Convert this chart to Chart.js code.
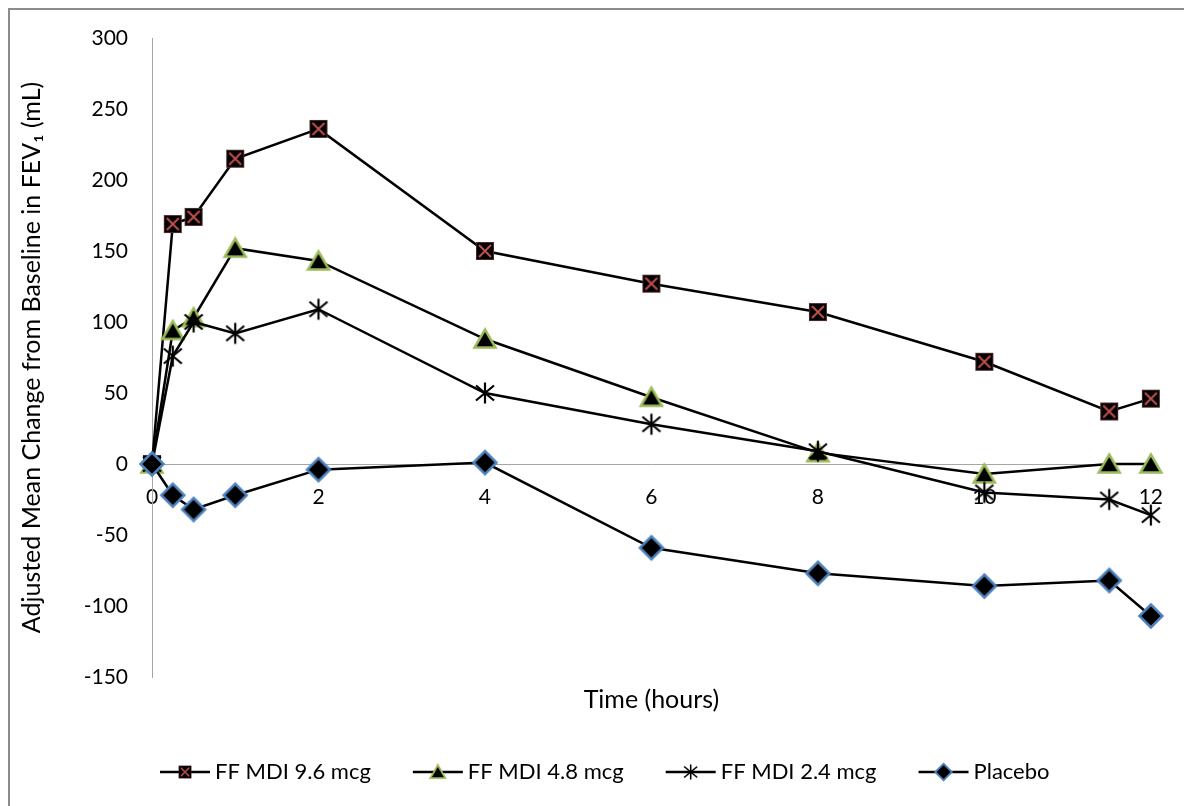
<!DOCTYPE html>
<html>
<head>
<meta charset="utf-8">
<script src="https://cdn.jsdelivr.net/npm/chart.js@4.4.1/dist/chart.umd.min.js"></script>
<style>
  html, body { margin: 0; padding: 0; background: #fff; overflow: hidden; }
  #frame { position: absolute; left: 8px; top: 8px; width: 1200px; height: 820px; border: 2px solid #8c8c8c; }
  #c { position: absolute; left: 0; top: 0; }
</style>
</head>
<body>
<div id="frame"></div>
<canvas id="c" width="1184" height="806"></canvas>
<script>
"use strict"

// time points (hours) and adjusted mean change from baseline in FEV1 (mL)
const hours = [0, 0.25, 0.5, 1, 2, 4, 6, 8, 10, 11.5, 12];
const ff96 = [0, 169, 174, 215, 236, 150, 127, 107, 72, 37, 46];
const ff48 = [0, 94, 103, 152, 143, 88, 47, 8, -7, 0, 0];
const ff24 = [0, 76, 100, 92, 109, 50, 28, 9, -20, -25, -36];
const placebo = [0, -22, -32, -22, -4, 1, -59, -77, -86, -82, -107];
const seriesNames = ["FF MDI 9.6 mcg", "FF MDI 4.8 mcg", "FF MDI 2.4 mcg", "Placebo"];
const yTicks = [-150, -100, -50, 0, 50, 100, 150, 200, 250, 300];
const xTicks = [0, 2, 4, 6, 8, 10, 12];

const FONT = "Lato";

function makeCanvas(w, h) {
    const cv = document.createElement("canvas");
    cv.width = w;
    cv.height = h;
    return cv;
}

// marker images
function squareMarker() {
    const cv = makeCanvas(22, 22);
    const g = cv.getContext("2d");
    g.fillStyle = "#000";
    g.fillRect(2, 2, 18, 18);
    g.strokeStyle = "#4a2a2a";
    g.lineWidth = 1;
    g.strokeRect(2.5, 2.5, 17, 17);
    g.strokeStyle = "#C0504D";
    g.lineWidth = 2;
    g.beginPath();
    g.moveTo(5, 5); g.lineTo(17, 17);
    g.moveTo(17, 5); g.lineTo(5, 17);
    g.stroke();
    return cv;
}

function triangleMarker() {
    const cv = makeCanvas(26, 24);
    const g = cv.getContext("2d");
    g.beginPath();
    g.moveTo(13, 2.5);
    g.lineTo(23.5, 20.5);
    g.lineTo(2.5, 20.5);
    g.closePath();
    g.fillStyle = "#000";
    g.fill();
    g.strokeStyle = "#9BBB59";
    g.lineWidth = 2.5;
    g.lineJoin = "miter";
    g.stroke();
    return cv;
}

function starMarker() {
    const cv = makeCanvas(24, 24);
    const g = cv.getContext("2d");
    g.strokeStyle = "#000";
    g.lineWidth = 2.2;
    g.beginPath();
    g.moveTo(12, 1.5); g.lineTo(12, 22.5);
    g.moveTo(3, 4.5); g.lineTo(21, 19.5);
    g.moveTo(21, 4.5); g.lineTo(3, 19.5);
    g.stroke();
    return cv;
}

function diamondMarker() {
    const cv = makeCanvas(28, 28);
    const g = cv.getContext("2d");
    g.beginPath();
    g.moveTo(14, 2.5);
    g.lineTo(25.5, 14);
    g.lineTo(14, 25.5);
    g.lineTo(2.5, 14);
    g.closePath();
    g.fillStyle = "#000";
    g.fill();
    g.strokeStyle = "#4F81BD";
    g.lineWidth = 2.5;
    g.stroke();
    return cv;
}

const markers = [squareMarker(), triangleMarker(), starMarker(), diamondMarker()];
const seriesValues = [ff96, ff48, ff24, placebo];

const datasets = seriesValues.map((vals, i) => ({
    label: seriesNames[i],
    data: hours.map((h, j) => ({ x: h, y: vals[j] })),
    borderColor: "#000",
    borderWidth: 2.5,
    pointStyle: markers[i],
    pointRadius: 10,
    pointHoverRadius: 10,
    tension: 0,
    clip: false,
    order: 3 - i
}));

// legend drawn as Excel does: short line with a smaller marker through it
const lineLegend = {
    id: "lineLegend",
    afterDraw(chart) {
        const ctx = chart.ctx;
        ctx.save();
        ctx.font = "22px " + FONT;
        ctx.textBaseline = "middle";
        ctx.fillStyle = "#000";
        let x = 160;
        const y = 772;
        chart.data.datasets.forEach((ds, i) => {
            ctx.strokeStyle = "#000";
            ctx.lineWidth = 2.5;
            ctx.beginPath();
            ctx.moveTo(x, y);
            ctx.lineTo(x + 50, y);
            ctx.stroke();
            const m = markers[i];
            const w = m.width * 0.72, h = m.height * 0.72;
            ctx.drawImage(m, x + 25 - w / 2, y - h / 2, w, h);
            ctx.fillText(ds.label, x + 55, y);
            x += 55 + ctx.measureText(ds.label).width + 42;
        });
        ctx.restore();
    }
};

new Chart(document.getElementById("c"), {
    type: "line",
    data: { datasets: datasets },
    plugins: [lineLegend],
    options: {
        responsive: false,
        animation: false,
        events: [],
        layout: { padding: { left: 0, right: 31, top: 38, bottom: 0 } },
        plugins: {
            legend: { display: false },
            tooltip: { enabled: false }
        },
        scales: {
            x: {
                type: "linear",
                position: { y: 0 },
                min: 0,
                max: 12,
                afterBuildTicks: (s) => { s.ticks = xTicks.map(v => ({ value: v })); },
                grid: { display: false, drawTicks: false },
                border: { display: true, color: "#a6a6a6", width: 1 },
                ticks: { color: "#000", font: { family: FONT, size: 21 }, padding: 21, maxRotation: 0 }
            },
            x2: {
                type: "linear",
                position: "bottom",
                min: 0,
                max: 1,
                afterFit: (s) => { s.height = 129; },
                grid: { display: false, drawTicks: false },
                border: { display: false },
                ticks: { display: false },
                title: {
                    display: true,
                    text: "Time (hours)",
                    color: "#000",
                    font: { family: FONT, size: 25 },
                    padding: { top: 0, bottom: 91 }
                }
            },
            y: {
                type: "linear",
                min: -150,
                max: 300,
                afterBuildTicks: (s) => { s.ticks = yTicks.map(v => ({ value: v })); },
                afterFit: (s) => { s.width = 152; },
                grid: { display: false, drawTicks: false },
                border: { display: true, color: "#a6a6a6", width: 1 },
                ticks: { color: "#000", font: { family: FONT, size: 21 }, padding: 24 },
                title: {
                    display: true,
                    text: "Adjusted Mean Change from Baseline in FEV\u2081 (mL)",
                    color: "#000",
                    font: { family: FONT, size: 25 },
                    padding: { top: 17, bottom: 0 }
                }
            }
        }
    }
});
</script>
</body>
</html>
